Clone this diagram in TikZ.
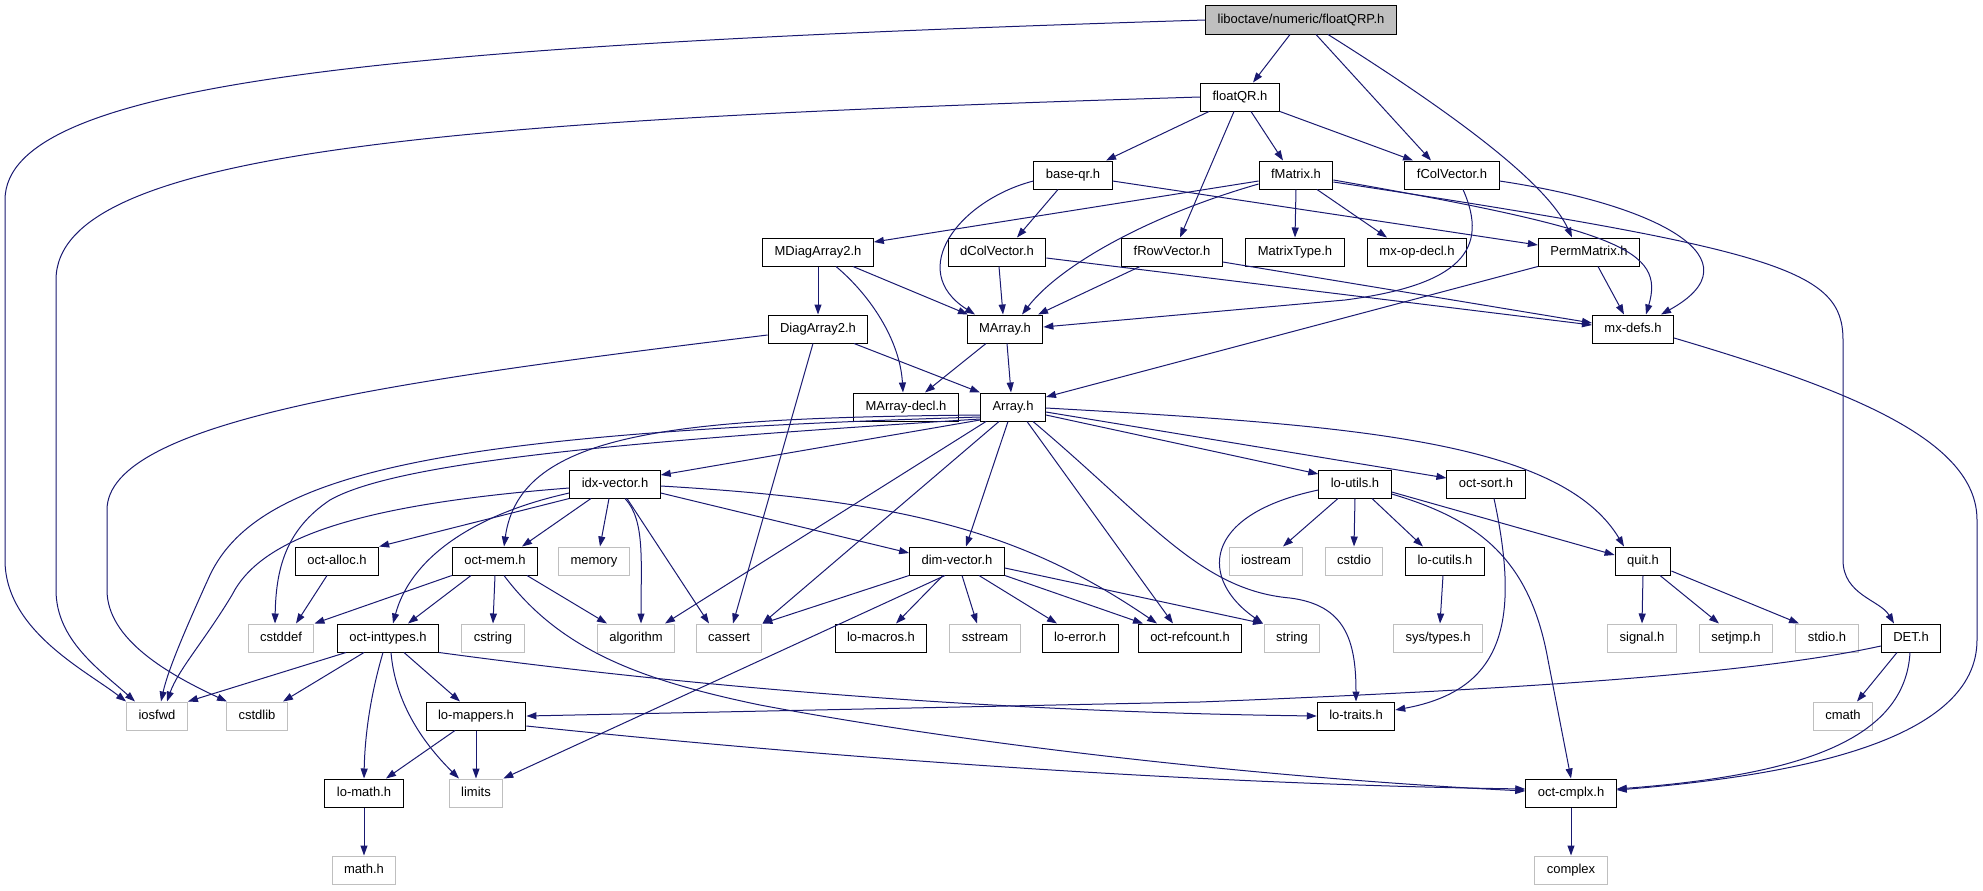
\documentclass[tikz,border=0pt]{standalone}
\usepackage{fontspec}
\setmainfont{Liberation Sans}
\usetikzlibrary{arrows.meta}
\definecolor{edgecol}{HTML}{191970}
\definecolor{sysgray}{HTML}{BFBFBF}
\begin{document}
\begin{tikzpicture}[x=1bp,y=-1bp,
  box/.style={draw=black, line width=1bp, fill=white, rectangle, inner xsep=12bp, inner ysep=0pt,
    minimum height=28bp, text height=10bp, text depth=3bp, font=\fontsize{13bp}{15bp}\selectfont},
  sys/.style={box, draw=sysgray},
  root/.style={box, fill=sysgray},
  e/.style={draw=edgecol, line width=1bp, -{Triangle[length=10bp,width=7bp]}}]
\useasboundingbox (0,0) rectangle (1983,891);

% nodes
\node[root] (qrp) at (1301,20) {liboctave/numeric/floatQRP.h};
\node[box] (qr) at (1240,97) {floatQR.h};
\node[box] (baseqr) at (1073,175) {base-qr.h};
\node[box] (fmat) at (1296,175) {fMatrix.h};
\node[box] (fcol) at (1452,175) {fColVector.h};
\node[box] (mdiag) at (818,252) {MDiagArray2.h};
\node[box] (dcol) at (997,252) {dColVector.h};
\node[box] (frow) at (1172,252) {fRowVector.h};
\node[box] (mtype) at (1295,252) {MatrixType.h};
\node[box] (mxop) at (1417,252) {mx-op-decl.h};
\node[box] (perm) at (1589,252) {PermMatrix.h};
\node[box] (diag) at (818,329) {DiagArray2.h};
\node[box] (marr) at (1005,329) {MArray.h};
\node[box] (mxdefs) at (1633,329) {mx-defs.h};
\node[box] (marrdecl) at (906,407) {MArray-decl.h};
\node[box] (arr) at (1013,407) {Array.h};
\node[box] (idx) at (615,484) {idx-vector.h};
\node[box] (loutils) at (1355,484) {lo-utils.h};
\node[box] (octsort) at (1486,484) {oct-sort.h};
\node[box] (octalloc) at (337,561) {oct-alloc.h};
\node[box] (octmem) at (495,561) {oct-mem.h};
\node[sys] (memory) at (594,561) {memory};
\node[box] (dimv) at (957,561) {dim-vector.h};
\node[sys] (iostream) at (1266,561) {iostream};
\node[sys] (cstdio) at (1354,561) {cstdio};
\node[box] (locutils) at (1445,561) {lo-cutils.h};
\node[box] (quit) at (1643,561) {quit.h};
\node[sys] (cstddef) at (281,638) {cstddef};
\node[box] (inttypes) at (388,638) {oct-inttypes.h};
\node[sys] (cstring) at (493,638) {cstring};
\node[sys] (algorithm) at (636,638) {algorithm};
\node[sys] (cassert) at (729,638) {cassert};
\node[box] (lomacros) at (881,638) {lo-macros.h};
\node[sys] (sstream) at (985,638) {sstream};
\node[box] (loerror) at (1080,638) {lo-error.h};
\node[box] (refcount) at (1190,638) {oct-refcount.h};
\node[sys] (string) at (1292,638) {string};
\node[sys] (systypes) at (1438,638) {sys/types.h};
\node[sys] (signal) at (1642,638) {signal.h};
\node[sys] (setjmp) at (1736,638) {setjmp.h};
\node[sys] (stdio) at (1827,638) {stdio.h};
\node[box] (det) at (1911,638) {DET.h};
\node[sys] (iosfwd) at (157,716) {iosfwd};
\node[sys] (cstdlib) at (257,716) {cstdlib};
\node[box] (mappers) at (476,716) {lo-mappers.h};
\node[box] (traits) at (1356,716) {lo-traits.h};
\node[sys] (cmath) at (1843,716) {cmath};
\node[box] (lomath) at (364,793) {lo-math.h};
\node[sys] (limits) at (476,793) {limits};
\node[box] (cmplx) at (1571,793) {oct-cmplx.h};
\node[sys] (mathh) at (364,870) {math.h};
\node[sys] (complex) at (1571,870) {complex};

% floatQRP.h
\draw[e] (qrp.west) .. controls (400,45) and (5,80) .. (5,200) -- (5,560) .. controls (5,630) and (85,670) .. (iosfwd.north west);
\draw[e] ([xshift=-11bp]qrp.south) -- ([xshift=13bp]qr.north);
\draw[e] ([xshift=15bp]qrp.south) -- ([xshift=-21bp]fcol.north);
\draw[e] ([xshift=27bp]qrp.south) .. controls (1480,130) and (1550,190) .. ([xshift=-17bp]perm.north);
% floatQR.h
\draw[e] (qr.west) .. controls (450,120) and (56,150) .. (56,280) -- (56,590) .. controls (56,640) and (100,670) .. ([xshift=-22bp]iosfwd.north);
\draw[e] ([xshift=-31bp]qr.south) -- ([xshift=33bp]baseqr.north);
\draw[e] ([xshift=-6bp]qr.south) -- ([xshift=8bp]frow.north);
\draw[e] ([xshift=11bp]qr.south) -- ([xshift=-13bp]fmat.north);
\draw[e] (qr.south east) -- ([xshift=-39bp]fcol.north);
% base-qr.h
\draw[e] ([yshift=-6bp]baseqr.west) .. controls (960,200) and (905,270) .. ([xshift=-30bp]marr.north);
\draw[e] ([xshift=-15bp]baseqr.south) -- ([xshift=20bp]dcol.north);
\draw[e] ([yshift=-6bp]baseqr.east) -- ([yshift=7bp]perm.west);
% fMatrix.h
\draw[e] ([yshift=-6bp]fmat.west) -- ([yshift=10bp]mdiag.east);
\draw[e] ([yshift=-9bp]fmat.west) .. controls (1150,215) and (1060,265) .. ([xshift=17bp]marr.north);
\draw[e] (fmat.south) -- (mtype.north);
\draw[e] ([xshift=21bp]fmat.south) -- ([xshift=-30bp]mxop.north);
\draw[e] ([yshift=-5bp]fmat.east) .. controls (1620,230) and (1665,250) .. ([xshift=13bp]mxdefs.north);
\draw[e] ([yshift=-7bp]fmat.east) .. controls (1780,250) and (1843,270) .. (1843,340) -- (1843,560) .. controls (1843,595) and (1880,600) .. ([xshift=-17bp]det.north);
% fColVector.h
\draw[e] ([xshift=11bp]fcol.south) .. controls (1490,250) and (1460,285) .. (1345,300) -- ([yshift=2bp]marr.east);
\draw[e] ([yshift=-6bp]fcol.east) .. controls (1660,205) and (1760,260) .. ([xshift=28bp]mxdefs.north);
% PermMatrix.h
\draw[e] ([xshift=9bp]perm.south) -- ([xshift=-9bp]mxdefs.north);
\draw[e] (perm.south west) -- ([yshift=10bp]arr.east);
% MDiagArray2.h
\draw[e] (mdiag.south) -- (diag.north);
\draw[e] ([xshift=18bp]mdiag.south) .. controls (870,295) and (900,340) .. ([xshift=-3bp]marrdecl.north);
\draw[e] ([xshift=35bp]mdiag.south) -- ([xshift=-37bp]marr.north);
% dColVector.h
\draw[e] ([xshift=2bp]dcol.south) -- ([xshift=-2bp]marr.north);
\draw[e] ([yshift=-6bp]dcol.east) -- ([yshift=4bp]mxdefs.west);
% fRowVector.h
\draw[e] ([xshift=-32bp]frow.south) -- ([xshift=33bp]marr.north);
\draw[e] ([yshift=-10bp]frow.east) -- ([yshift=6bp]mxdefs.west);
% DiagArray2.h
\draw[e] ([yshift=-6bp]diag.west) .. controls (400,380) and (107,420) .. (107,510) -- (107,590) .. controls (107,640) and (170,675) .. ([xshift=-30bp]cstdlib.north);
\draw[e] ([xshift=-5bp]diag.south) -- ([xshift=4bp]cassert.north);
\draw[e] ([xshift=36bp]diag.south) -- (arr.north west);
% MArray.h
\draw[e] ([xshift=-19bp]marr.south) -- ([xshift=19bp]marrdecl.north);
\draw[e] ([xshift=2bp]marr.south) -- ([xshift=-2bp]arr.north);
% mx-defs.h
\draw[e] ([yshift=-9bp]mxdefs.east) .. controls (1850,390) and (1977,440) .. (1977,520) -- (1977,640) .. controls (1977,740) and (1800,775) .. ([yshift=3bp]cmplx.east);
% Array.h
\draw[e] ([yshift=-8bp]arr.west) .. controls (680,418) and (520,430) .. ([xshift=9bp]octmem.north);
\draw[e] ([yshift=-10bp]arr.west) .. controls (450,433) and (260,470) .. (210,575) .. controls (185,630) and (168,670) .. ([xshift=4bp]iosfwd.north);
\draw[e] ([yshift=-12bp]arr.west) .. controls (650,440) and (400,460) .. (330,500) .. controls (285,530) and (276,570) .. ([xshift=-6bp]cstddef.north);
\draw[e] ([yshift=-13bp]arr.west) -- ([yshift=9bp]idx.east);
\draw[e] ([xshift=-27bp]arr.south) -- ([xshift=29bp]algorithm.north);
\draw[e] ([xshift=-14bp]arr.south) -- (cassert.north east);
\draw[e] ([xshift=-5bp]arr.south) -- ([xshift=9bp]dimv.north);
\draw[e] ([xshift=14bp]arr.south) -- ([xshift=-17bp]refcount.north);
\draw[e] ([xshift=20bp]arr.south) .. controls (1150,520) and (1200,590) .. (1290,598) .. controls (1345,605) and (1356,640) .. (traits.north);
\draw[e] ([yshift=-8bp]arr.east) -- ([yshift=10bp]loutils.west);
\draw[e] ([yshift=-5bp]arr.east) -- ([yshift=6bp]octsort.west);
\draw[e] ([yshift=-1bp]arr.east) .. controls (1350,425) and (1560,440) .. ([xshift=-19bp]quit.north);
% idx-vector.h
\draw[e] ([yshift=-4bp]idx.west) .. controls (350,505) and (260,540) .. (232,595) .. controls (205,640) and (178,670) .. ([xshift=10bp]iosfwd.north);
\draw[e] ([yshift=-9bp]idx.west) .. controls (470,515) and (410,560) .. ([xshift=5bp]inttypes.north);
\draw[e] (idx.south west) -- (octalloc.north east);
\draw[e] ([xshift=-24bp]idx.south) -- ([xshift=27bp]octmem.north);
\draw[e] ([xshift=-6bp]idx.south) -- ([xshift=6bp]memory.north);
\draw[e] ([xshift=10bp]idx.south) .. controls (645,520) and (641,560) .. ([xshift=5bp]algorithm.north);
\draw[e] ([xshift=12bp]idx.south) -- ([xshift=-20bp]cassert.north);
\draw[e] ([yshift=-9bp]idx.east) -- ([yshift=8bp]dimv.west);
\draw[e] ([yshift=-2bp]idx.east) .. controls (900,500) and (1020,530) .. ([xshift=-33bp]refcount.north);
% oct-alloc.h, oct-mem.h
\draw[e] ([xshift=-10bp]octalloc.south) -- ([xshift=15bp]cstddef.north);
\draw[e] (octmem.south west) -- (cstddef.north east);
\draw[e] ([xshift=-24bp]octmem.south) -- ([xshift=20bp]inttypes.north);
\draw[e] (octmem.south) -- (cstring.north);
\draw[e] ([xshift=32bp]octmem.south) -- ([xshift=-29bp]algorithm.north);
\draw[e] ([xshift=9bp]octmem.south) .. controls (560,650) and (640,680) .. (760,705) .. controls (1000,750) and (1300,780) .. ([yshift=2bp]cmplx.west);
% dim-vector.h
\draw[e] (dimv.south west) -- (cassert.north east);
\draw[e] ([xshift=-12bp]dimv.south) -- (limits.north east);
\draw[e] ([xshift=-14bp]dimv.south) -- ([xshift=15bp]lomacros.north);
\draw[e] ([xshift=5bp]dimv.south) -- ([xshift=-8bp]sstream.north);
\draw[e] ([xshift=22bp]dimv.south) -- ([xshift=-23bp]loerror.north);
\draw[e] (dimv.south east) -- ([xshift=-47bp]refcount.north);
\draw[e] ([yshift=-7bp]dimv.east) -- ([xshift=-29bp]string.north);
% lo-utils.h
\draw[e] ([xshift=-17bp]loutils.south) -- ([xshift=17bp]iostream.north);
\draw[e] (loutils.south) -- (cstdio.north);
\draw[e] ([xshift=17bp]loutils.south) -- ([xshift=-22bp]locutils.north);
\draw[e] ([yshift=-8bp]loutils.east) -- ([yshift=6bp]quit.west);
\draw[e] ([yshift=-10bp]loutils.east) .. controls (1480,520) and (1530,560) .. (1548,660) -- (cmplx.north);
\draw[e] ([yshift=-6bp]loutils.west) .. controls (1200,515) and (1200,580) .. ([xshift=-29bp]string.north);
% oct-sort.h, lo-cutils.h, quit.h
\draw[e] ([xshift=8bp]octsort.south) .. controls (1520,620) and (1505,690) .. ([yshift=6bp]traits.east);
\draw[e] ([xshift=-2bp]locutils.south) -- ([xshift=2bp]systypes.north);
\draw[e] (quit.south) -- (signal.north);
\draw[e] ([xshift=17bp]quit.south) -- ([xshift=-17bp]setjmp.north);
\draw[e] ([yshift=-10bp]quit.east) -- ([xshift=-28bp]stdio.north);
% oct-inttypes.h
\draw[e] ([xshift=-42bp]inttypes.south) -- (iosfwd.north east);
\draw[e] ([xshift=-24bp]inttypes.south) -- ([xshift=26bp]cstdlib.north);
\draw[e] ([xshift=-5bp]inttypes.south) .. controls (372,690) and (365,730) .. (lomath.north);
\draw[e] ([xshift=3bp]inttypes.south) .. controls (395,700) and (420,740) .. ([xshift=-17bp]limits.north);
\draw[e] ([xshift=16bp]inttypes.south) -- ([xshift=-16bp]mappers.north);
\draw[e] (inttypes.south east) .. controls (700,688) and (1000,712) .. (traits.west);
% lo-mappers.h, lo-math.h
\draw[e] ([xshift=-21bp]mappers.south) -- ([xshift=22bp]lomath.north);
\draw[e] (mappers.south) -- (limits.north);
\draw[e] ([yshift=-10bp]mappers.east) .. controls (900,765) and (1250,785) .. ([yshift=4bp]cmplx.west);
\draw[e] (lomath.south) -- (mathh.north);
% DET.h
\draw[e] ([yshift=-8bp]det.west) .. controls (1750,675) and (1500,690) .. (1200,702) -- (mappers.east);
\draw[e] ([xshift=-14bp]det.south) -- ([xshift=14bp]cmath.north);
\draw[e] ([xshift=-1bp]det.south) .. controls (1905,740) and (1800,775) .. ([yshift=4bp]cmplx.east);
% oct-cmplx.h
\draw[e] (cmplx.south) -- (complex.north);
\end{tikzpicture}
\end{document}
